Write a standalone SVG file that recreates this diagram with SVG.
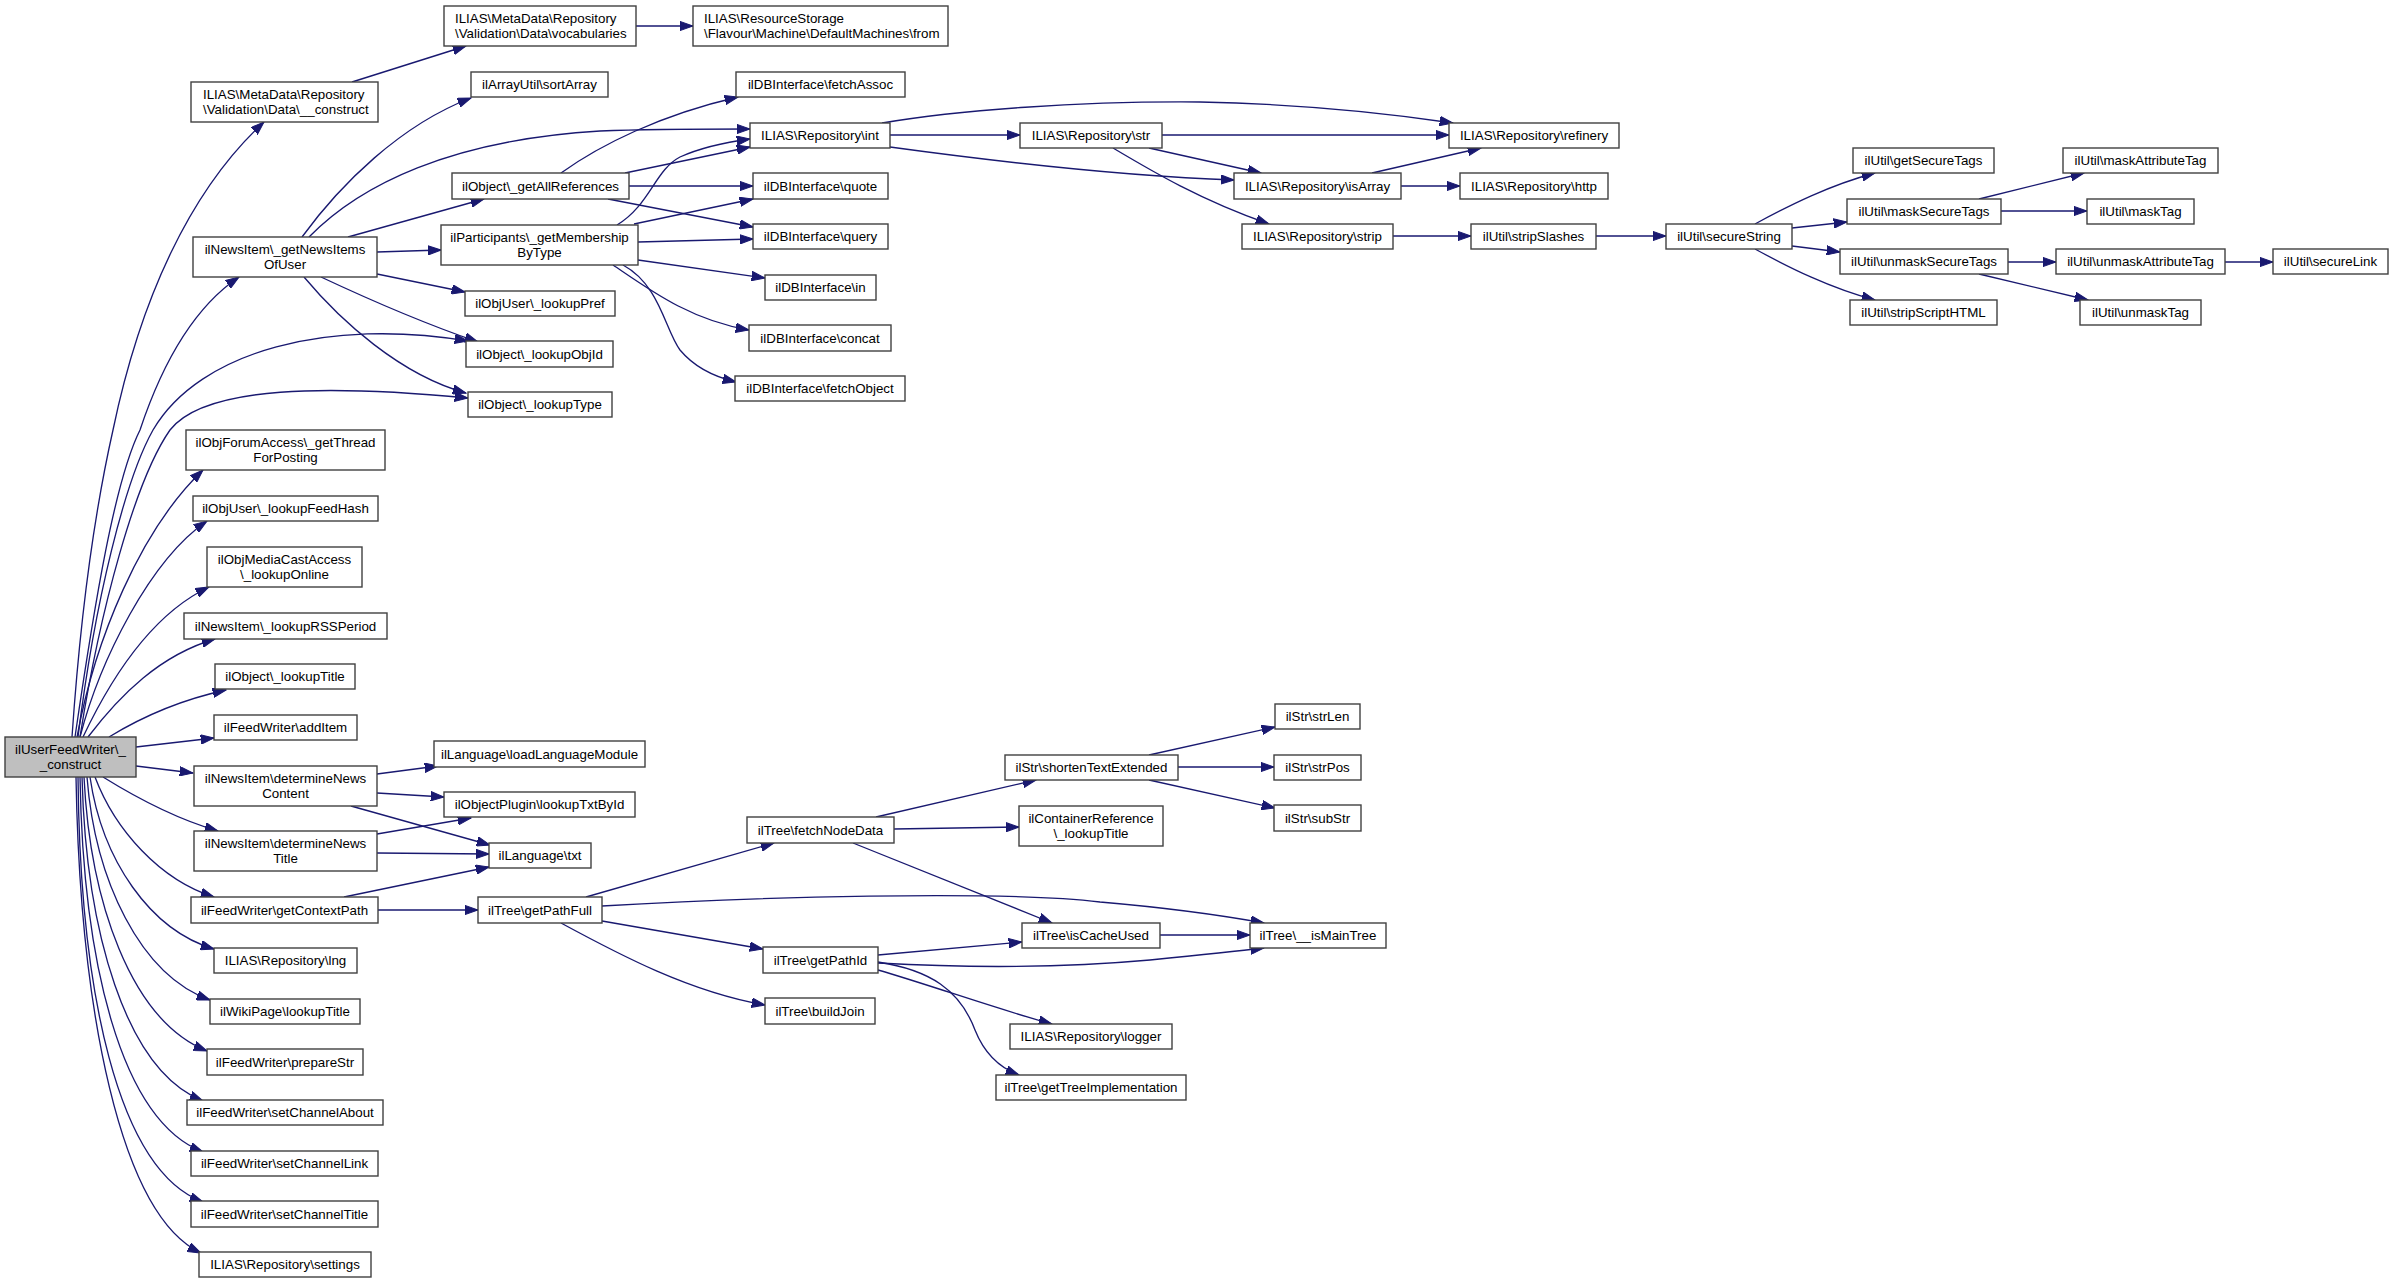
<svg xmlns="http://www.w3.org/2000/svg" width="2393" height="1283" viewBox="0 0 2393 1283">
<style>
.node rect{fill:#ffffff;stroke:#404040;stroke-width:1.4}
.root rect{fill:#bfbfbf}
text{font-family:"Liberation Sans",Helvetica,Arial,sans-serif;font-size:13.33px;fill:#000;text-anchor:middle}
text.l{text-anchor:start}
#edges path{fill:none;stroke:#191970;stroke-width:1.33;marker-end:url(#arr)}
</style>
<defs>
<marker id="arr" markerUnits="userSpaceOnUse" viewBox="0 0 14 10" markerWidth="14" markerHeight="10" refX="13.3" refY="5" orient="auto">
<path d="M0,0.3 L13.3,5 L0,9.7 z" fill="#191970" stroke="#191970" stroke-width="1"/>
</marker>
</defs>
<rect x="0" y="0" width="2393" height="1283" fill="#ffffff"/>
<g id="edges">
<path d="M72,737 C80,620 95,510 113,430 C140,300 190,190 264,122"/>
<path d="M75,737 C95,600 115,480 140,430 C160,370 190,310 239,277"/>
<path d="M78,737 C95,600 125,480 153,430 C200,350 330,318 468,341"/>
<path d="M80,737 C100,610 135,480 170,430 C205,385 330,385 468,398"/>
<path d="M77,737 C95,640 140,530 203,470"/>
<path d="M80,737 C100,660 150,560 207,521"/>
<path d="M83,737 C110,680 150,615 209,587"/>
<path d="M88,737 C120,695 160,655 215,639"/>
<path d="M109,737 C140,718 180,700 226,690"/>
<path d="M136,747 L214,738"/>
<path d="M136,766 L193,773"/>
<path d="M103,777 C140,800 180,820 218,831"/>
<path d="M95,777 C115,830 160,880 214,897"/>
<path d="M90,777 C102,860 150,930 214,949"/>
<path d="M87,777 C95,880 140,975 210,1000"/>
<path d="M84,777 C90,900 130,1020 207,1051"/>
<path d="M82,777 C86,930 125,1070 203,1101"/>
<path d="M80,777 C83,960 120,1120 203,1152"/>
<path d="M78,777 C80,990 117,1170 203,1202"/>
<path d="M76,777 C80,1010 120,1215 201,1253"/>
<path d="M352,82 L466,46"/>
<path d="M636,26 L693,26"/>
<path d="M302,237 C340,185 400,125 471,98"/>
<path d="M309,237 C360,185 450,140 600,131 C650,129 700,129 750,129"/>
<path d="M348,237 L484,199"/>
<path d="M377,252 L441,250"/>
<path d="M377,274 L465,292"/>
<path d="M321,277 C370,300 420,322 478,342"/>
<path d="M304,277 C340,320 400,375 466,393"/>
<path d="M561,173 C600,145 660,115 738,97"/>
<path d="M625,173 L750,147"/>
<path d="M629,186 L753,186"/>
<path d="M608,199 L753,227"/>
<path d="M617,225 C650,205 655,170 680,157 C700,148 720,143 750,139"/>
<path d="M634,224 L753,199"/>
<path d="M638,242 L753,239"/>
<path d="M638,260 L765,278"/>
<path d="M613,265 C650,290 690,320 749,330"/>
<path d="M623,265 C660,285 665,330 680,350 C695,368 715,377 736,382"/>
<path d="M890,135 L1020,135"/>
<path d="M882,123 C960,110 1080,101 1200,102 C1300,104 1380,112 1453,123"/>
<path d="M890,147 C1000,162 1120,176 1234,180"/>
<path d="M1162,135 L1449,135"/>
<path d="M1149,148 L1261,173"/>
<path d="M1113,148 C1150,170 1200,200 1269,224"/>
<path d="M1372,173 L1481,148"/>
<path d="M1401,186 L1460,186"/>
<path d="M1393,236 L1471,236"/>
<path d="M1596,236 L1666,236"/>
<path d="M1755,224 C1790,205 1830,185 1875,173"/>
<path d="M1792,228 L1847,222"/>
<path d="M1792,246 L1840,252"/>
<path d="M1755,249 C1790,268 1830,288 1875,300"/>
<path d="M1979,199 L2084,173"/>
<path d="M2001,211 L2087,211"/>
<path d="M2008,262 L2056,262"/>
<path d="M1979,274 L2088,300"/>
<path d="M2225,262 L2273,262"/>
<path d="M377,774 L438,766"/>
<path d="M377,793 L444,797"/>
<path d="M351,806 L490,845"/>
<path d="M377,834 L471,818"/>
<path d="M377,853 L489,854"/>
<path d="M344,897 L489,867"/>
<path d="M378,910 L478,910"/>
<path d="M586,897 L774,843"/>
<path d="M602,906 C750,897 1000,890 1100,902 C1170,908 1220,915 1264,923"/>
<path d="M602,921 L763,949"/>
<path d="M561,923 C620,955 690,992 765,1005"/>
<path d="M876,817 L1036,780"/>
<path d="M894,829 L1019,827"/>
<path d="M853,843 L1052,923"/>
<path d="M1160,935 L1250,935"/>
<path d="M878,955 L1022,942"/>
<path d="M878,963 C950,967 1050,969 1150,960 C1200,955 1230,952 1264,948"/>
<path d="M878,970 C930,985 1000,1010 1052,1024"/>
<path d="M878,962 C930,970 960,990 975,1030 C985,1055 1000,1068 1019,1075"/>
<path d="M1149,755 L1275,727"/>
<path d="M1178,767 L1274,767"/>
<path d="M1149,780 L1275,808"/>
</g>
<g id="n_root" class="node root"><rect x="5" y="737" width="131" height="40"/><text x="70.5" y="754">ilUserFeedWriter\_</text><text x="70.5" y="769">_construct</text></g>
<g id="n_metaConstruct" class="node"><rect x="191" y="82" width="187" height="40"/><text class="l" x="203" y="99">ILIAS\MetaData\Repository</text><text class="l" x="203" y="114">\Validation\Data\__construct</text></g>
<g id="n_vocabularies" class="node"><rect x="444" y="6" width="192" height="40"/><text class="l" x="455" y="23">ILIAS\MetaData\Repository</text><text class="l" x="455" y="38">\Validation\Data\vocabularies</text></g>
<g id="n_defaultFrom" class="node"><rect x="693" y="6" width="255" height="40"/><text class="l" x="704" y="23">ILIAS\ResourceStorage</text><text class="l" x="704" y="38">\Flavour\Machine\DefaultMachines\from</text></g>
<g id="n_sortArray" class="node"><rect x="471" y="72" width="137" height="25"/><text x="539.5" y="89">ilArrayUtil\sortArray</text></g>
<g id="n_getNewsItemsOfUser" class="node"><rect x="193" y="237" width="184" height="40"/><text x="285" y="254">ilNewsItem\_getNewsItems</text><text x="285" y="269">OfUser</text></g>
<g id="n_getAllReferences" class="node"><rect x="452" y="173" width="177" height="26"/><text x="540.5" y="190.5">ilObject\_getAllReferences</text></g>
<g id="n_getMembershipByType" class="node"><rect x="441" y="225" width="197" height="40"/><text x="539.5" y="242">ilParticipants\_getMembership</text><text x="539.5" y="257">ByType</text></g>
<g id="n_lookupPref" class="node"><rect x="465" y="291" width="150" height="25"/><text x="540" y="308">ilObjUser\_lookupPref</text></g>
<g id="n_lookupObjId" class="node"><rect x="466" y="341" width="147" height="26"/><text x="539.5" y="358.5">ilObject\_lookupObjId</text></g>
<g id="n_lookupType" class="node"><rect x="468" y="392" width="144" height="25"/><text x="540" y="409">ilObject\_lookupType</text></g>
<g id="n_fetchAssoc" class="node"><rect x="736" y="72" width="169" height="25"/><text x="820.5" y="89">ilDBInterface\fetchAssoc</text></g>
<g id="n_int" class="node"><rect x="750" y="123" width="140" height="25"/><text x="820" y="140">ILIAS\Repository\int</text></g>
<g id="n_str" class="node"><rect x="1020" y="123" width="142" height="25"/><text x="1091" y="140">ILIAS\Repository\str</text></g>
<g id="n_quote" class="node"><rect x="753" y="173" width="135" height="26"/><text x="820.5" y="190.5">ilDBInterface\quote</text></g>
<g id="n_query" class="node"><rect x="753" y="224" width="135" height="25"/><text x="820.5" y="241">ilDBInterface\query</text></g>
<g id="n_in" class="node"><rect x="765" y="275" width="111" height="25"/><text x="820.5" y="292">ilDBInterface\in</text></g>
<g id="n_concat" class="node"><rect x="749" y="325" width="142" height="26"/><text x="820" y="342.5">ilDBInterface\concat</text></g>
<g id="n_fetchObject" class="node"><rect x="735" y="376" width="170" height="25"/><text x="820" y="393">ilDBInterface\fetchObject</text></g>
<g id="n_refinery" class="node"><rect x="1449" y="123" width="170" height="25"/><text x="1534" y="140">ILIAS\Repository\refinery</text></g>
<g id="n_isArray" class="node"><rect x="1234" y="173" width="167" height="26"/><text x="1317.5" y="190.5">ILIAS\Repository\isArray</text></g>
<g id="n_http" class="node"><rect x="1460" y="173" width="148" height="26"/><text x="1534" y="190.5">ILIAS\Repository\http</text></g>
<g id="n_strip" class="node"><rect x="1242" y="224" width="151" height="25"/><text x="1317.5" y="241">ILIAS\Repository\strip</text></g>
<g id="n_stripSlashes" class="node"><rect x="1471" y="224" width="125" height="25"/><text x="1533.5" y="241">ilUtil\stripSlashes</text></g>
<g id="n_secureString" class="node"><rect x="1666" y="224" width="126" height="25"/><text x="1729" y="241">ilUtil\secureString</text></g>
<g id="n_getSecureTags" class="node"><rect x="1853" y="148" width="141" height="25"/><text x="1923.5" y="165">ilUtil\getSecureTags</text></g>
<g id="n_maskSecureTags" class="node"><rect x="1847" y="199" width="154" height="25"/><text x="1924" y="216">ilUtil\maskSecureTags</text></g>
<g id="n_unmaskSecureTags" class="node"><rect x="1840" y="249" width="168" height="25"/><text x="1924" y="266">ilUtil\unmaskSecureTags</text></g>
<g id="n_stripScriptHTML" class="node"><rect x="1850" y="300" width="147" height="25"/><text x="1923.5" y="317">ilUtil\stripScriptHTML</text></g>
<g id="n_maskAttributeTag" class="node"><rect x="2063" y="148" width="155" height="25"/><text x="2140.5" y="165">ilUtil\maskAttributeTag</text></g>
<g id="n_maskTag" class="node"><rect x="2087" y="199" width="107" height="25"/><text x="2140.5" y="216">ilUtil\maskTag</text></g>
<g id="n_unmaskAttributeTag" class="node"><rect x="2056" y="249" width="169" height="25"/><text x="2140.5" y="266">ilUtil\unmaskAttributeTag</text></g>
<g id="n_unmaskTag" class="node"><rect x="2080" y="300" width="121" height="25"/><text x="2140.5" y="317">ilUtil\unmaskTag</text></g>
<g id="n_secureLink" class="node"><rect x="2273" y="249" width="115" height="25"/><text x="2330.5" y="266">ilUtil\secureLink</text></g>
<g id="n_getThreadForPosting" class="node"><rect x="186" y="430" width="199" height="40"/><text x="285.5" y="447">ilObjForumAccess\_getThread</text><text x="285.5" y="462">ForPosting</text></g>
<g id="n_lookupFeedHash" class="node"><rect x="193" y="496" width="185" height="25"/><text x="285.5" y="513">ilObjUser\_lookupFeedHash</text></g>
<g id="n_lookupOnline" class="node"><rect x="207" y="547" width="155" height="40"/><text x="284.5" y="564">ilObjMediaCastAccess</text><text x="284.5" y="579">\_lookupOnline</text></g>
<g id="n_lookupRSSPeriod" class="node"><rect x="184" y="613" width="203" height="26"/><text x="285.5" y="630.5">ilNewsItem\_lookupRSSPeriod</text></g>
<g id="n_lookupTitle" class="node"><rect x="215" y="664" width="140" height="25"/><text x="285" y="681">ilObject\_lookupTitle</text></g>
<g id="n_addItem" class="node"><rect x="214" y="715" width="143" height="25"/><text x="285.5" y="732">ilFeedWriter\addItem</text></g>
<g id="n_determineNewsContent" class="node"><rect x="194" y="766" width="183" height="40"/><text x="285.5" y="783">ilNewsItem\determineNews</text><text x="285.5" y="798">Content</text></g>
<g id="n_loadLanguageModule" class="node"><rect x="434" y="741" width="211" height="26"/><text x="539.5" y="758.5">ilLanguage\loadLanguageModule</text></g>
<g id="n_lookupTxtById" class="node"><rect x="444" y="792" width="191" height="25"/><text x="539.5" y="809">ilObjectPlugin\lookupTxtById</text></g>
<g id="n_txt" class="node"><rect x="489" y="843" width="102" height="25"/><text x="540" y="860">ilLanguage\txt</text></g>
<g id="n_determineNewsTitle" class="node"><rect x="194" y="831" width="183" height="40"/><text x="285.5" y="848">ilNewsItem\determineNews</text><text x="285.5" y="863">Title</text></g>
<g id="n_getContextPath" class="node"><rect x="191" y="897" width="187" height="26"/><text x="284.5" y="914.5">ilFeedWriter\getContextPath</text></g>
<g id="n_getPathFull" class="node"><rect x="478" y="897" width="124" height="26"/><text x="540" y="914.5">ilTree\getPathFull</text></g>
<g id="n_lng" class="node"><rect x="214" y="948" width="143" height="25"/><text x="285.5" y="965">ILIAS\Repository\lng</text></g>
<g id="n_wikiLookupTitle" class="node"><rect x="210" y="999" width="150" height="25"/><text x="285" y="1016">ilWikiPage\lookupTitle</text></g>
<g id="n_prepareStr" class="node"><rect x="207" y="1049" width="156" height="26"/><text x="285" y="1066.5">ilFeedWriter\prepareStr</text></g>
<g id="n_setChannelAbout" class="node"><rect x="187" y="1100" width="196" height="25"/><text x="285" y="1117">ilFeedWriter\setChannelAbout</text></g>
<g id="n_setChannelLink" class="node"><rect x="191" y="1151" width="187" height="25"/><text x="284.5" y="1168">ilFeedWriter\setChannelLink</text></g>
<g id="n_setChannelTitle" class="node"><rect x="191" y="1201" width="187" height="26"/><text x="284.5" y="1218.5">ilFeedWriter\setChannelTitle</text></g>
<g id="n_settings" class="node"><rect x="199" y="1252" width="172" height="25"/><text x="285" y="1269">ILIAS\Repository\settings</text></g>
<g id="n_fetchNodeData" class="node"><rect x="747" y="817" width="147" height="26"/><text x="820.5" y="834.5">ilTree\fetchNodeData</text></g>
<g id="n_shortenTextExtended" class="node"><rect x="1005" y="755" width="173" height="25"/><text x="1091.5" y="772">ilStr\shortenTextExtended</text></g>
<g id="n_containerLookupTitle" class="node"><rect x="1019" y="806" width="144" height="40"/><text x="1091" y="823">ilContainerReference</text><text x="1091" y="838">\_lookupTitle</text></g>
<g id="n_isCacheUsed" class="node"><rect x="1022" y="923" width="138" height="25"/><text x="1091" y="940">ilTree\isCacheUsed</text></g>
<g id="n_getPathId" class="node"><rect x="763" y="947" width="115" height="26"/><text x="820.5" y="964.5">ilTree\getPathId</text></g>
<g id="n_buildJoin" class="node"><rect x="765" y="998" width="110" height="26"/><text x="820" y="1015.5">ilTree\buildJoin</text></g>
<g id="n_logger" class="node"><rect x="1010" y="1024" width="162" height="25"/><text x="1091" y="1041">ILIAS\Repository\logger</text></g>
<g id="n_getTreeImplementation" class="node"><rect x="996" y="1075" width="190" height="25"/><text x="1091" y="1092">ilTree\getTreeImplementation</text></g>
<g id="n_strLen" class="node"><rect x="1275" y="704" width="85" height="25"/><text x="1317.5" y="721">ilStr\strLen</text></g>
<g id="n_strPos" class="node"><rect x="1274" y="755" width="87" height="25"/><text x="1317.5" y="772">ilStr\strPos</text></g>
<g id="n_subStr" class="node"><rect x="1274" y="805" width="87" height="26"/><text x="1317.5" y="822.5">ilStr\subStr</text></g>
<g id="n_isMainTree" class="node"><rect x="1250" y="923" width="136" height="25"/><text x="1318" y="940">ilTree\__isMainTree</text></g>
</svg>
